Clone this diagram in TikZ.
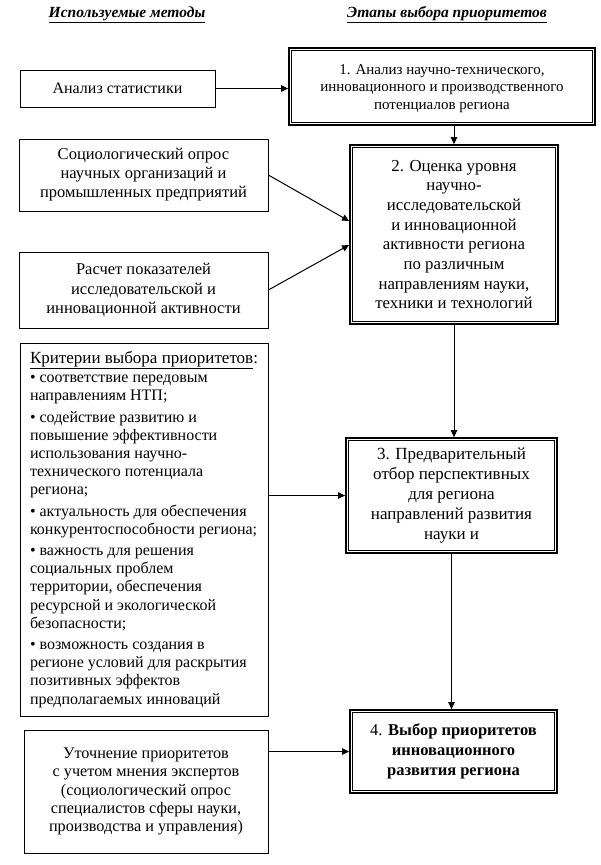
\documentclass[tikz,border=0pt]{standalone}
\usepackage{fontspec}
\setmainfont{Liberation Serif}
\usetikzlibrary{arrows.meta,calc}
\begin{document}
\begin{tikzpicture}[x=1pt,y=-1pt,
  box/.style={draw, line width=0.7pt, inner sep=0pt, align=center},
  stage/.style={draw, line width=1.8pt, inner sep=0pt, align=center},
  arr/.style={-{Triangle[length=7pt,width=6.5pt]}, line width=1pt},
  innerline/.style={line width=0.7pt},
  head/.style={font=\fontsize{15.5}{18}\selectfont\bfseries\itshape}]
\useasboundingbox (0,0) rectangle (600,865);

\node[head] (h1) at (127,15) {\underline{Используемые методы}};
\node[head] (h2) at (447,15) {\underline{Этапы выбора приоритетов}};

\node[box, minimum width=195pt, minimum height=37pt, font=\fontsize{16}{19}\selectfont] (A) at (117.5,88.5) {Анализ статистики};
\node[stage, minimum width=306pt, minimum height=77pt, font=\fontsize{15}{17.5}\selectfont] (s1) at (442,86.5) {\rule{0pt}{14pt}1. Анализ научно-технического,\\инновационного и производственного\\потенциалов региона};

\node[box, minimum width=249pt, minimum height=72pt, font=\fontsize{16.5}{19}\selectfont] (B) at (143.5,175) {Социологический опрос\\научных организаций и\\промышленных предприятий};
\node[box, minimum width=249pt, minimum height=76pt, font=\fontsize{16.5}{19.5}\selectfont] (C) at (143.5,290) {Расчет показателей\\исследовательской и\\инновационной активности};
\node[stage, minimum width=208pt, minimum height=179pt, font=\fontsize{16.8}{19.7}\selectfont] (s2) at (454,234.5) {2. Оценка уровня\\научно-\\исследовательской\\и инновационной\\активности региона\\по различным\\направлениям науки,\\техники и технологий};

\node[box, minimum width=248pt, minimum height=373pt, align=left, font=\fontsize{16}{18.2}\selectfont] (D) at (144,529.5) {{\fontsize{17}{18.2}\selectfont\underline{Критерии выбора приоритетов}:}\\[1pt]
• соответствие передовым\\направлениям НТП;\\[3pt]
• содействие развитию и\\повышение эффективности\\использования научно-\\технического потенциала\\региона;\\[3pt]
• актуальность для обеспечения\\конкурентоспособности региона;\\[3pt]
• важность для решения\\социальных проблем\\территории, обеспечения\\ресурсной и экологической\\безопасности;\\[3pt]
• возможность создания в\\регионе условий для раскрытия\\позитивных эффектов\\предполагаемых инноваций};

\node[stage, minimum width=211pt, minimum height=115pt, font=\fontsize{17}{20}\selectfont] (s3) at (451.5,495.5) {3. Предварительный\\отбор перспективных\\для региона\\направлений развития\\науки и};

\node[box, minimum width=244pt, minimum height=123pt, font=\fontsize{16.2}{18.3}\selectfont] (E) at (146,791.5) {Уточнение приоритетов\\с учетом мнения экспертов\\(социологический опрос\\специалистов сферы науки,\\производства и управления)};
\node[stage, minimum width=207pt, minimum height=83pt, font=\fontsize{16.5}{19.7}\selectfont] (s4) at (453.5,751.5) {4. \textbf{Выбор приоритетов}\\\textbf{инновационного}\\\textbf{развития региона}};

\foreach \n in {s1,s2,s3,s4}
  \draw[innerline] ([shift={(3.3pt,-3.3pt)}]\n.north west) rectangle ([shift={(-3.3pt,3.3pt)}]\n.south east);

\draw[arr] (A.east) -- (A.east -| s1.west);
\draw[arr] (s1.south -| s2.north) -- (s2.north);
\draw[arr] (B.east) -- ([yshift=13.5pt]s2.west);
\draw[arr] (C.east) -- ([yshift=-10.5pt]s2.west);
\draw[arr] (s2.south) -- (s2.south |- s3.north);
\draw[arr] (D.east |- s3.west) -- (s3.west);
\draw[arr] (s3.south) -- (s3.south |- s4.north);
\draw[arr] (E.east |- s4.west) -- (s4.west);
\end{tikzpicture}
\end{document}
